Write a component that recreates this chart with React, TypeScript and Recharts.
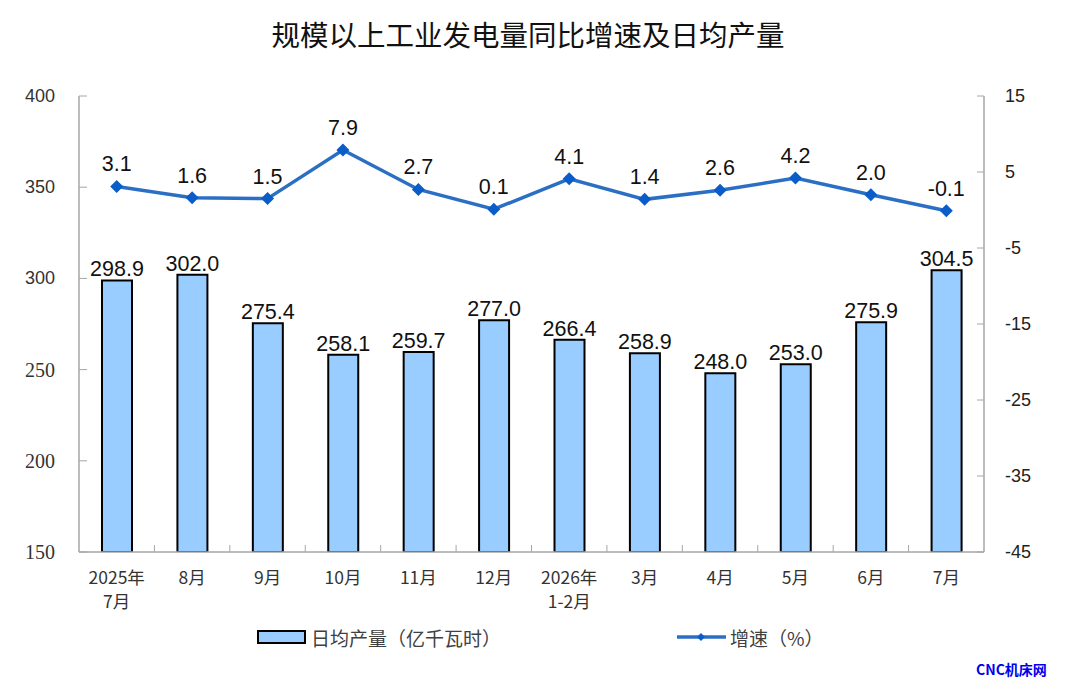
import React from 'react';
import { ComposedChart, Bar, Line, XAxis, YAxis, LabelList, Legend } from 'recharts';

const categories = ['2025年\n7月', '8月', '9月', '10月', '11月', '12月', '2026年\n1-2月', '3月', '4月', '5月', '6月', '7月'];
const dailyOutput = [298.9, 302.0, 275.4, 258.1, 259.7, 277.0, 266.4, 258.9, 248.0, 253.0, 275.9, 304.5];
const growth = [3.1, 1.6, 1.5, 7.9, 2.7, 0.1, 4.1, 1.4, 2.6, 4.2, 2.0, -0.1];
const leftTicks = [150, 200, 250, 300, 350, 400];
const rightTicks = [-45, -35, -25, -15, -5, 5, 15];
const barName = '日均产量（亿千瓦时）';
const lineName = '增速（%）';
const titleText = '规模以上工业发电量同比增速及日均产量';

const data = categories.map((c, i) => ({ name: c, output: dailyOutput[i], growth: growth[i] }));

const W = 1080;
const H = 699;
const LEFT_W = 79;
const RIGHT_W = 96;
const HALF_BAND = (W - LEFT_W - RIGHT_W) / categories.length / 2;
const AXIS_COLOR = '#a6a6a6';
const BAR_FILL = '#99CCFF';
const LINE_COLOR = '#2B6FC4';
const DOT_COLOR = '#0A5CC8';
const SANS = '"Liberation Sans", Arial, sans-serif';
const SERIF = '"Liberation Serif", "Times New Roman", serif';
const CJK = '"Noto Sans CJK SC", "Noto Sans", sans-serif';

const XTick = (props: any) => {
  const { x, y, payload, index } = props;
  const lines = String(payload.value).split('\n');
  return (
    <g>
      {index < categories.length - 1 && (
        <line x1={x + HALF_BAND} x2={x + HALF_BAND} y1={y} y2={y - 7} stroke={AXIS_COLOR} strokeWidth={1} />
      )}
      {lines.map((l, i) => (
        <text key={i} x={x} y={y + 24 + i * 24} textAnchor="middle" dominantBaseline="central"
          fontFamily={CJK} fontSize={17.5} fill="#333">{l}</text>
      ))}
    </g>
  );
};

const LeftTick = (props: any) => {
  const { x, y, payload } = props;
  const v = payload.value;
  const serif = v <= 250;
  return (
    <text x={x} y={y} textAnchor="end" dominantBaseline="central"
      fontFamily={serif ? SERIF : SANS} fontSize={serif ? 20 : 18} fill="#333">{v}</text>
  );
};

const Diamond = (props: any) => {
  const { cx, cy } = props;
  if (cx == null || cy == null) return null;
  const s = 6.5;
  return <path d={`M${cx},${cy - s}L${cx + s},${cy}L${cx},${cy + s}L${cx - s},${cy}Z`} fill={DOT_COLOR} />;
};

const LegendContent = (props: any) => {
  const payload = props.payload || [];
  const barItem = payload.find((p: any) => p.type === 'rect') || { value: barName };
  const lineItem = payload.find((p: any) => p.type === 'line') || { value: lineName };
  const cy = 21;
  return (
    <svg width={W} height={40} style={{ display: 'block' }}>
      <rect x={258} y={cy - 6} width={47} height={12} fill={BAR_FILL} stroke="#000" strokeWidth={2} />
      <text x={311} y={cy} dominantBaseline="central" fontFamily={CJK} fontSize={19} fill="#404040">{barItem.value}</text>
      <line x1={677} x2={726} y1={cy} y2={cy} stroke={LINE_COLOR} strokeWidth={3.5} />
      <path d={`M701,${cy - 4}L705,${cy}L701,${cy + 4}L697,${cy}Z`} fill={DOT_COLOR} />
      <text x={730} y={cy} dominantBaseline="central" fontFamily={CJK} fontSize={19} fill="#404040">{lineItem.value}</text>
    </svg>
  );
};

export default function App() {
  return (
    <div style={{ position: 'absolute', left: 0, top: 0, width: W, height: H, background: '#fff' }}>
      <div style={{
        position: 'absolute', left: 0, top: 15, width: 1056, textAlign: 'center',
        fontFamily: CJK, fontSize: 28.5, color: '#111', lineHeight: '38px', zIndex: 2,
      }}>{titleText}</div>
      <ComposedChart width={W} height={H} data={data}
        margin={{ top: 96, right: 0, bottom: 57, left: 0 }} style={{ fontFamily: SANS }}>
        <XAxis dataKey="name" xAxisId={0} interval={0} height={50} tickLine={false} tickSize={0} tickMargin={0}
          axisLine={{ stroke: AXIS_COLOR, strokeWidth: 1.5 }} tick={<XTick />} />
        <YAxis yAxisId="left" width={LEFT_W} domain={[150, 400]} ticks={leftTicks} interval={0}
          tickSize={-8} tickMargin={32} axisLine={{ stroke: AXIS_COLOR, strokeWidth: 1.5 }}
          tickLine={{ stroke: AXIS_COLOR }} tick={<LeftTick />} allowDataOverflow />
        <YAxis yAxisId="right" orientation="right" width={RIGHT_W} domain={[-45, 15]} ticks={rightTicks} interval={0}
          tickSize={-7} tickMargin={28} axisLine={{ stroke: AXIS_COLOR, strokeWidth: 1.5 }}
          tickLine={{ stroke: AXIS_COLOR }} tick={{ fontSize: 18, fill: '#222', fontFamily: SANS }} allowDataOverflow />
        <Legend verticalAlign="bottom" height={40} width={W}
          wrapperStyle={{ top: 616, left: 0, width: W, height: 40 }} content={<LegendContent />} />
        <Bar yAxisId="left" dataKey="output" name={barName} fill={BAR_FILL} stroke="#000" strokeWidth={2}
          barSize={30} isAnimationActive={false}>
          <LabelList dataKey="output" position="top" offset={4}
            formatter={(v: any) => Number(v).toFixed(1)}
            style={{ fontSize: 21.5, fill: '#111', fontFamily: SANS }} />
        </Bar>
        <Line yAxisId="right" dataKey="growth" name={lineName} type="linear" stroke={LINE_COLOR} strokeWidth={3.5}
          dot={<Diamond />} activeDot={false} isAnimationActive={false} legendType="line">
          <LabelList dataKey="growth" position="top" offset={15}
            formatter={(v: any) => Number(v).toFixed(1)}
            style={{ fontSize: 21.5, fill: '#111', fontFamily: SANS }} />
        </Line>
      </ComposedChart>
      <div style={{
        position: 'absolute', left: 976, top: 659, fontFamily: CJK, fontWeight: 700,
        fontSize: 14, color: '#0000EE', lineHeight: '20px',
      }}>CNC机床网</div>
    </div>
  );
}
